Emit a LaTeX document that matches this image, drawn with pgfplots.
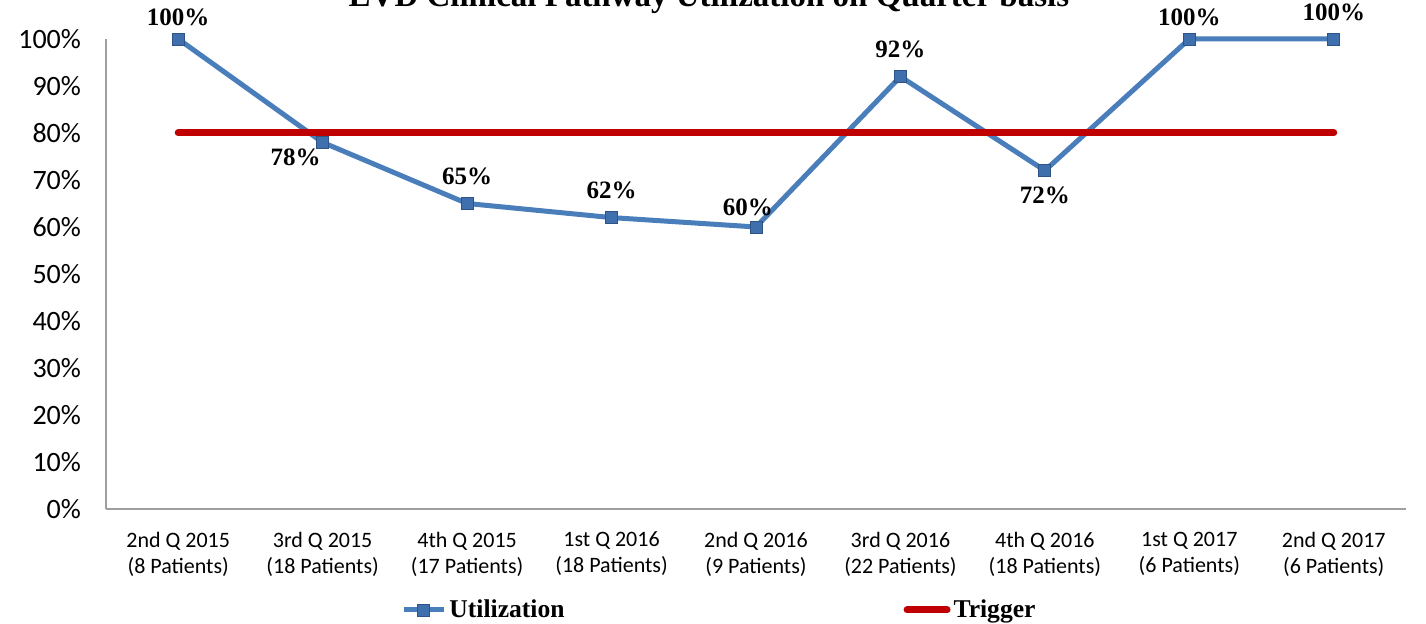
\documentclass[border=0pt]{standalone}
\usepackage{pgfplots}
\pgfplotsset{compat=1.18}
\usepackage{pgfplotstable}
\usepackage{fontspec}
\setmainfont{Liberation Serif}
\newfontfamily\calib{Carlito}
\definecolor{utilblue}{HTML}{4A7EBB}
\definecolor{markblue}{HTML}{3F6FAD}
\definecolor{markdark}{HTML}{2C5486}
\definecolor{trigred}{HTML}{C00000}

% x = quarter index, y = utilization (%), dx/dy = label offset
\pgfplotstableread{
x y dx dy
0 100 0 11
1 78 -13.5 -7.5
2 65 0 13.5
3 62 0 13.5
4 60 -4 10
5 92 0 13.5
6 72 0 -12.5
7 100 0 11
8 100 0 13.5
}\utildata

\pgfplotstableread{
x y
0 80
8 80
}\trigdata

\begin{document}
\begin{tikzpicture}
\begin{axis}[
  width=650pt, height=235pt, scale only axis,
  xmin=-0.5, xmax=8.5, ymin=0, ymax=100,
  axis x line*=bottom, axis y line*=left,
  axis line style={gray!75, line width=0.8pt},
  tick style={draw=none},
  ytick={0,10,...,100},
  yticklabels={0\%,10\%,20\%,30\%,40\%,50\%,60\%,70\%,80\%,90\%,100\%},
  yticklabel style={font=\calib\fontsize{14}{16}\selectfont, xshift=-9pt},
  xtick={0,...,8},
  xticklabels={{2nd Q 2015\\(8 Patients)},{3rd Q 2015\\(18 Patients)},{4th Q 2015\\(17 Patients)},
    {1st Q 2016\\(18 Patients)},{2nd Q 2016\\(9 Patients)},{3rd Q 2016\\(22 Patients)},
    {4th Q 2016\\(18 Patients)},{1st Q 2017\\(6 Patients)},{2nd Q 2017\\(6 Patients)}},
  xticklabel style={font=\calib\fontsize{11}{13}\selectfont, align=center, yshift=-8pt},
  /pgf/number format/assume math mode=true,
  clip=false,
  legend columns=2,
  legend style={draw=none, fill=none, at={(axis description cs:0.2223,0)}, anchor=west, yshift=-50.5pt,
    font=\bfseries\fontsize{12.8}{14}\selectfont, nodes={inner xsep=1.5pt},
    /tikz/every even column/.append style={column sep=168pt}},
  legend image code/.code={\draw[mark repeat=2,mark phase=2,#1] plot coordinates {(0pt,0pt) (10pt,0pt) (20pt,0pt)};},
]
\addplot[utilblue, line width=2.5pt, mark=square*, mark size=3pt,
  mark options={solid, fill=markblue, draw=markdark, line width=0.4pt},
  visualization depends on={\thisrow{dx} \as \dx},
  visualization depends on={\thisrow{dy} \as \dy},
  nodes near coords={\pgfmathprintnumber{\pgfplotspointmeta}\%},
  every node near coord/.append style={anchor=center, xshift=\dx pt, yshift=\dy pt,
    black, font=\bfseries\fontsize{12.5}{14}\selectfont},
  point meta=explicit] table[x=x, y=y, meta=y] {\utildata};
\addlegendentry{Utilization}
\addplot[trigred, line width=3.5pt, line cap=round] table[x=x, y=y] {\trigdata};
\addlegendentry{Trigger}
\node[anchor=base, font=\bfseries\fontsize{16.5}{18}\selectfont] at (axis description cs:0.4638,1) [yshift=16pt] {EVD Clinical Pathway Utilization on Quarter basis};
\end{axis}
\pgfresetboundingbox
\useasboundingbox (-53pt,-57.5pt) rectangle (660pt,254.5pt);
\end{tikzpicture}
\end{document}
